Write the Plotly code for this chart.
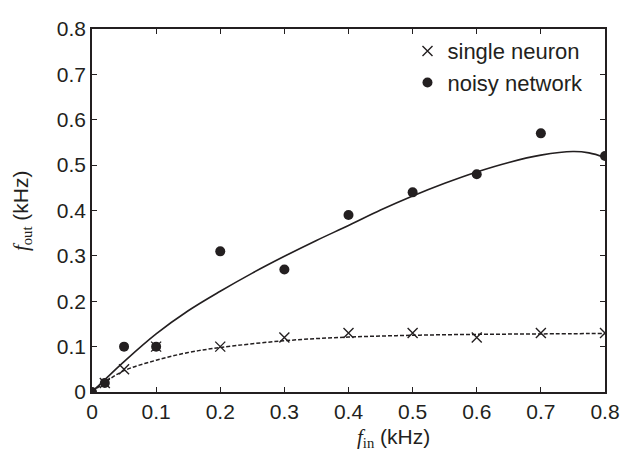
import plotly.graph_objects as go

# measured data points
x_single = [0.0, 0.02, 0.05, 0.1, 0.2, 0.3, 0.4, 0.5, 0.6, 0.7, 0.8]
y_single = [0.0, 0.02, 0.05, 0.1, 0.1, 0.12, 0.13, 0.13, 0.12, 0.13, 0.13]

x_network = [0.0, 0.02, 0.05, 0.1, 0.2, 0.3, 0.4, 0.5, 0.6, 0.7, 0.8]
y_network = [0.0, 0.02, 0.1, 0.1, 0.31, 0.27, 0.39, 0.44, 0.48, 0.57, 0.52]

# fitted curves
x_fit_net = [0.0, 0.025, 0.05, 0.1, 0.15, 0.2, 0.25, 0.3, 0.35, 0.4, 0.45, 0.5,
             0.55, 0.6, 0.65, 0.7, 0.75, 0.775, 0.8]
y_fit_net = [0.0, 0.034, 0.067, 0.128, 0.179, 0.222, 0.262, 0.299, 0.334, 0.367,
             0.401, 0.432, 0.460, 0.485, 0.506, 0.522, 0.530, 0.527, 0.517]

x_fit_single = [0.0, 0.025, 0.05, 0.1, 0.15, 0.2, 0.3, 0.4, 0.5, 0.6, 0.7, 0.8]
y_fit_single = [0.0, 0.026, 0.047, 0.070, 0.087, 0.098, 0.113, 0.121, 0.125,
                0.127, 0.128, 0.129]

tick_vals = [0, 0.1, 0.2, 0.3, 0.4, 0.5, 0.6, 0.7, 0.8]
tick_text = ["0", "0.1", "0.2", "0.3", "0.4", "0.5", "0.6", "0.7", "0.8"]

INK = "#231f20"
FONT = "Liberation Sans, Arial, sans-serif"
SERIF = "Liberation Serif"

fig = go.Figure()

fig.add_trace(go.Scatter(x=x_fit_net, y=y_fit_net, mode="lines",
                         line=dict(color=INK, width=1.6, shape="spline"),
                         showlegend=False, hoverinfo="skip"))
fig.add_trace(go.Scatter(x=x_fit_single, y=y_fit_single, mode="lines",
                         line=dict(color=INK, width=1.5, shape="spline", dash="4px,2px"),
                         showlegend=False, hoverinfo="skip"))

fig.add_trace(go.Scatter(x=x_single, y=y_single, mode="markers", name="single neuron",
                         marker=dict(symbol="x-thin-open", size=10, color=INK,
                                     line=dict(width=1.4, color=INK))))
fig.add_trace(go.Scatter(x=x_network, y=y_network, mode="markers", name="noisy network",
                         marker=dict(symbol="circle", size=10, color=INK,
                                     line=dict(width=0))))

axis_common = dict(
    range=[0, 0.8], tickvals=tick_vals, ticktext=tick_text,
    ticks="inside", ticklen=5, tickwidth=1.2, tickcolor=INK,
    showline=True, linecolor=INK, linewidth=1.5, mirror="ticks",
    showgrid=False, zeroline=False, ticklabeloverflow="allow",
    tickfont=dict(family=FONT, size=21, color=INK),
)

# page body has an 8px default margin; compensate so the plot area sits at
# x 92..602, y 17..384 in the window
fig.update_layout(
    width=621, height=444,
    margin=dict(l=84, r=19, t=9, b=60),
    paper_bgcolor="white", plot_bgcolor="white",
    xaxis=dict(**axis_common),
    yaxis=dict(**axis_common),
    legend=dict(x=0.615, y=0.997, xanchor="left", yanchor="top",
                bgcolor="rgba(0,0,0,0)", borderwidth=0,
                font=dict(family=FONT, size=22, color=INK),
                tracegroupgap=0, itemwidth=30),
    annotations=[
        dict(xref="paper", yref="paper", x=(392 - 92) / 510, y=-0.128,
             xanchor="center", yanchor="middle", showarrow=False,
             text=f"<span style=\"font-family:{SERIF}\"><i>f</i><sub>in</sub></span> (kHz)",
             font=dict(family=FONT, size=21, color=INK)),
        dict(xref="paper", yref="paper", x=(22 - 92) / 510, y=0.5, textangle=-90,
             xanchor="center", yanchor="middle", showarrow=False,
             text=f"<span style=\"font-family:{SERIF}\"><i>f</i><sub>out</sub></span> (kHz)",
             font=dict(family=FONT, size=21, color=INK)),
    ],
)

fig.write_html("out.html")
